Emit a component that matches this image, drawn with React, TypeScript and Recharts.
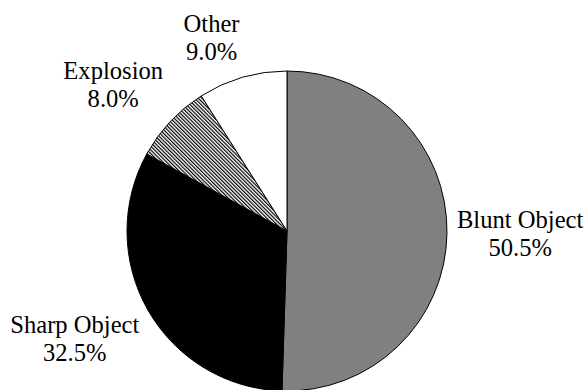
import React from "react";
import { PieChart, Pie, Cell } from "recharts";

const categories = ["Blunt Object", "Sharp Object", "Explosion", "Other"];
const shares = [50.5, 32.5, 8.0, 9.0];
const fills = ["#808080", "#000000", "url(#hatch)", "#ffffff"];

const data = categories.map((name, i) => ({ name, value: shares[i] }));

const RADIAN = Math.PI / 180;
const FONT = "Liberation Serif";
const FONT_SIZE = 24.6;

let ctx: CanvasRenderingContext2D | null = null;
const measure = (t: string): number => {
  if (typeof document !== "undefined") {
    if (!ctx) ctx = document.createElement("canvas").getContext("2d");
    if (ctx) {
      ctx.font = `${FONT_SIZE}px "${FONT}"`;
      return ctx.measureText(t).width;
    }
  }
  return t.length * FONT_SIZE * 0.45;
};

const renderLabel = (props: any) => {
  const { cx, cy, midAngle, outerRadius, index } = props;
  const r = outerRadius + 10;
  const c = Math.cos(-midAngle * RADIAN);
  const s = Math.sin(-midAngle * RADIAN);
  const px = cx + r * c;
  const py = cy + r * s;
  const d = data[index];
  const l1 = d.name;
  const l2 = `${d.value.toFixed(1)}%`;
  const w = Math.max(measure(l1), measure(l2));
  let mx: number;
  if (c > 0.1) mx = px + w / 2;
  else if (c < -0.1) mx = px - w / 2;
  else mx = px;
  let top: number;
  if (s < -0.2) top = py - 54;
  else if (s > 0.2) top = py;
  else top = py - 24;
  return (
    <g key={`lbl-${index}`} fontFamily={FONT} fontSize={FONT_SIZE}>
      <text x={mx} y={top + 18} textAnchor="middle" fill="#000" fontFamily={FONT} fontSize={FONT_SIZE}>
        {l1}
      </text>
      <text x={mx} y={top + 46} textAnchor="middle" fill="#000" fontFamily={FONT} fontSize={FONT_SIZE}>
        {l2}
      </text>
    </g>
  );
};

export default function App() {
  return (
    <div style={{ position: "absolute", left: 0, top: 0, width: 586, height: 390, background: "#fff", fontFamily: "Liberation Serif" }}>
      <PieChart width={586} height={390} margin={{ top: 0, right: 0, bottom: 0, left: 0 }}>
        <defs>
          <pattern id="hatch" patternUnits="userSpaceOnUse" width="2.6" height="2.6" patternTransform="rotate(-45)">
            <rect width="2.6" height="2.6" fill="#ffffff" />
            <rect width="1.2" height="2.6" fill="#000000" />
          </pattern>
        </defs>
        <Pie
          data={data}
          dataKey="value"
          nameKey="name"
          cx={287}
          cy={231}
          outerRadius={160}
          startAngle={90}
          endAngle={-270}
          stroke="#000"
          strokeWidth={1}
          label={renderLabel}
          labelLine={false}
          isAnimationActive={false}
        >
          {data.map((d, i) => (
            <Cell key={d.name} fill={fills[i]} />
          ))}
        </Pie>
      </PieChart>
    </div>
  );
}
